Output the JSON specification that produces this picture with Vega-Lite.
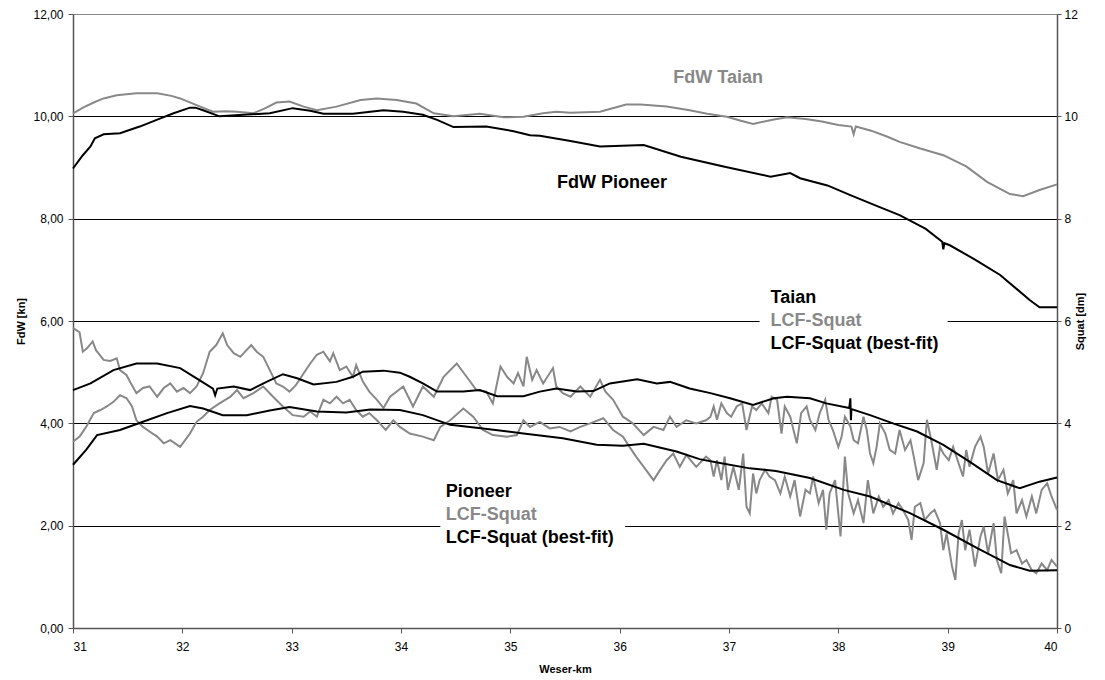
{
  "$schema": "https://vega.github.io/schema/vega-lite/v6.json",
  "width": 984,
  "height": 614,
  "autosize": {"type": "none"},
  "padding": {"left": 73, "top": 14, "right": 48, "bottom": 52},
  "background": "white",
  "config": {
    "view": {"stroke": null},
    "font": "Liberation Sans",
    "axis": {"labelFont": "Liberation Sans", "titleFont": "Liberation Sans", "labelColor": "#000000", "titleColor": "#000000"}
  },
  "datasets": {
    "fdw_taian": [
      {"km": 31.00, "v": 10.06}, {"km": 31.10, "v": 10.18}, {"km": 31.20, "v": 10.28}, {"km": 31.28, "v": 10.35},
      {"km": 31.40, "v": 10.41}, {"km": 31.58, "v": 10.45}, {"km": 31.77, "v": 10.45}, {"km": 31.90, "v": 10.40},
      {"km": 31.98, "v": 10.35}, {"km": 32.13, "v": 10.22}, {"km": 32.28, "v": 10.09}, {"km": 32.40, "v": 10.10},
      {"km": 32.50, "v": 10.09}, {"km": 32.65, "v": 10.06}, {"km": 32.75, "v": 10.15}, {"km": 32.86, "v": 10.27},
      {"km": 32.98, "v": 10.29}, {"km": 33.11, "v": 10.19}, {"km": 33.23, "v": 10.12}, {"km": 33.41, "v": 10.19},
      {"km": 33.63, "v": 10.32}, {"km": 33.78, "v": 10.35}, {"km": 33.96, "v": 10.32}, {"km": 34.14, "v": 10.25},
      {"km": 34.30, "v": 10.06}, {"km": 34.48, "v": 10.00}, {"km": 34.72, "v": 10.05}, {"km": 34.94, "v": 9.98},
      {"km": 35.12, "v": 9.99}, {"km": 35.30, "v": 10.06}, {"km": 35.42, "v": 10.09}, {"km": 35.55, "v": 10.07},
      {"km": 35.82, "v": 10.09}, {"km": 36.06, "v": 10.23}, {"km": 36.19, "v": 10.23}, {"km": 36.43, "v": 10.19},
      {"km": 36.64, "v": 10.12}, {"km": 36.80, "v": 10.05}, {"km": 36.98, "v": 9.99}, {"km": 37.10, "v": 9.92},
      {"km": 37.22, "v": 9.85}, {"km": 37.41, "v": 9.94}, {"km": 37.53, "v": 9.98}, {"km": 37.70, "v": 9.95},
      {"km": 37.85, "v": 9.90}, {"km": 38.00, "v": 9.83}, {"km": 38.12, "v": 9.80}, {"km": 38.14, "v": 9.65},
      {"km": 38.16, "v": 9.80}, {"km": 38.30, "v": 9.72}, {"km": 38.45, "v": 9.60}, {"km": 38.56, "v": 9.50},
      {"km": 38.75, "v": 9.37}, {"km": 38.96, "v": 9.24}, {"km": 39.17, "v": 9.02}, {"km": 39.36, "v": 8.72},
      {"km": 39.57, "v": 8.48}, {"km": 39.69, "v": 8.44}, {"km": 39.84, "v": 8.56}, {"km": 40.00, "v": 8.67}
    ],
    "fdw_pioneer": [
      {"km": 31.00, "v": 8.98}, {"km": 31.09, "v": 9.24}, {"km": 31.16, "v": 9.41}, {"km": 31.20, "v": 9.57},
      {"km": 31.28, "v": 9.65}, {"km": 31.43, "v": 9.67}, {"km": 31.61, "v": 9.80}, {"km": 31.80, "v": 9.96},
      {"km": 31.92, "v": 10.06}, {"km": 32.07, "v": 10.17}, {"km": 32.12, "v": 10.17}, {"km": 32.19, "v": 10.12},
      {"km": 32.34, "v": 10.00}, {"km": 32.56, "v": 10.03}, {"km": 32.80, "v": 10.06}, {"km": 33.01, "v": 10.16},
      {"km": 33.17, "v": 10.11}, {"km": 33.29, "v": 10.05}, {"km": 33.56, "v": 10.05}, {"km": 33.84, "v": 10.12},
      {"km": 34.02, "v": 10.09}, {"km": 34.20, "v": 10.03}, {"km": 34.33, "v": 9.93}, {"km": 34.48, "v": 9.79},
      {"km": 34.78, "v": 9.80}, {"km": 35.03, "v": 9.71}, {"km": 35.18, "v": 9.63}, {"km": 35.27, "v": 9.62},
      {"km": 35.55, "v": 9.52}, {"km": 35.82, "v": 9.41}, {"km": 36.22, "v": 9.44}, {"km": 36.56, "v": 9.21},
      {"km": 36.95, "v": 9.02}, {"km": 37.38, "v": 8.82}, {"km": 37.56, "v": 8.89}, {"km": 37.65, "v": 8.79},
      {"km": 37.90, "v": 8.65}, {"km": 38.11, "v": 8.46}, {"km": 38.35, "v": 8.25}, {"km": 38.56, "v": 8.07},
      {"km": 38.80, "v": 7.80}, {"km": 38.95, "v": 7.55}, {"km": 38.96, "v": 7.40}, {"km": 38.97, "v": 7.52},
      {"km": 39.02, "v": 7.48}, {"km": 39.25, "v": 7.20}, {"km": 39.48, "v": 6.90}, {"km": 39.75, "v": 6.41},
      {"km": 39.84, "v": 6.27}, {"km": 40.00, "v": 6.27}
    ],
    "fit_taian": [
      {"km": 31.00, "v": 4.65}, {"km": 31.16, "v": 4.78}, {"km": 31.37, "v": 5.04}, {"km": 31.58, "v": 5.17},
      {"km": 31.77, "v": 5.17}, {"km": 31.98, "v": 5.08}, {"km": 32.13, "v": 4.88}, {"km": 32.28, "v": 4.68},
      {"km": 32.30, "v": 4.55}, {"km": 32.32, "v": 4.68}, {"km": 32.47, "v": 4.72}, {"km": 32.62, "v": 4.65},
      {"km": 32.77, "v": 4.81}, {"km": 32.92, "v": 4.96}, {"km": 33.05, "v": 4.88}, {"km": 33.20, "v": 4.76},
      {"km": 33.41, "v": 4.81}, {"km": 33.56, "v": 4.91}, {"km": 33.65, "v": 5.01}, {"km": 33.84, "v": 5.03},
      {"km": 33.99, "v": 4.99}, {"km": 34.08, "v": 4.91}, {"km": 34.20, "v": 4.78}, {"km": 34.33, "v": 4.62},
      {"km": 34.57, "v": 4.62}, {"km": 34.72, "v": 4.65}, {"km": 34.88, "v": 4.53}, {"km": 35.12, "v": 4.53},
      {"km": 35.27, "v": 4.62}, {"km": 35.42, "v": 4.68}, {"km": 35.61, "v": 4.62}, {"km": 35.76, "v": 4.63},
      {"km": 35.91, "v": 4.78}, {"km": 36.16, "v": 4.86}, {"km": 36.34, "v": 4.78}, {"km": 36.46, "v": 4.81},
      {"km": 36.64, "v": 4.68}, {"km": 36.83, "v": 4.59}, {"km": 37.01, "v": 4.49}, {"km": 37.22, "v": 4.36},
      {"km": 37.41, "v": 4.49}, {"km": 37.53, "v": 4.52}, {"km": 37.74, "v": 4.49}, {"km": 37.89, "v": 4.39},
      {"km": 38.10, "v": 4.30}, {"km": 38.11, "v": 4.49}, {"km": 38.115, "v": 4.06}, {"km": 38.12, "v": 4.28},
      {"km": 38.29, "v": 4.16}, {"km": 38.50, "v": 4.00}, {"km": 38.72, "v": 3.84}, {"km": 38.96, "v": 3.58},
      {"km": 39.20, "v": 3.25}, {"km": 39.45, "v": 2.89}, {"km": 39.66, "v": 2.73}, {"km": 39.84, "v": 2.86},
      {"km": 40.00, "v": 2.94}
    ],
    "fit_pioneer": [
      {"km": 31.00, "v": 3.19}, {"km": 31.12, "v": 3.48}, {"km": 31.22, "v": 3.77}, {"km": 31.43, "v": 3.87},
      {"km": 31.64, "v": 4.03}, {"km": 31.86, "v": 4.20}, {"km": 32.07, "v": 4.34}, {"km": 32.19, "v": 4.29},
      {"km": 32.37, "v": 4.16}, {"km": 32.59, "v": 4.16}, {"km": 32.80, "v": 4.25}, {"km": 32.98, "v": 4.32},
      {"km": 33.23, "v": 4.23}, {"km": 33.50, "v": 4.21}, {"km": 33.72, "v": 4.27}, {"km": 33.99, "v": 4.26},
      {"km": 34.20, "v": 4.16}, {"km": 34.45, "v": 3.97}, {"km": 34.75, "v": 3.90}, {"km": 35.12, "v": 3.80},
      {"km": 35.48, "v": 3.71}, {"km": 35.79, "v": 3.58}, {"km": 36.03, "v": 3.56}, {"km": 36.22, "v": 3.60},
      {"km": 36.52, "v": 3.45}, {"km": 36.73, "v": 3.30}, {"km": 36.88, "v": 3.24}, {"km": 37.19, "v": 3.12},
      {"km": 37.43, "v": 3.07}, {"km": 37.74, "v": 2.93}, {"km": 38.05, "v": 2.70}, {"km": 38.29, "v": 2.57},
      {"km": 38.66, "v": 2.24}, {"km": 38.96, "v": 1.92}, {"km": 39.27, "v": 1.56}, {"km": 39.57, "v": 1.23},
      {"km": 39.75, "v": 1.12}, {"km": 40.00, "v": 1.13}
    ],
    "squat_taian": [
      {"km": 31.00, "v": 5.86}, {"km": 31.03, "v": 5.82}, {"km": 31.06, "v": 5.78}, {"km": 31.09, "v": 5.40},
      {"km": 31.13, "v": 5.47}, {"km": 31.18, "v": 5.60}, {"km": 31.21, "v": 5.43}, {"km": 31.28, "v": 5.24},
      {"km": 31.34, "v": 5.22}, {"km": 31.40, "v": 5.27}, {"km": 31.43, "v": 5.04}, {"km": 31.49, "v": 4.94},
      {"km": 31.52, "v": 4.82}, {"km": 31.58, "v": 4.59}, {"km": 31.64, "v": 4.69}, {"km": 31.70, "v": 4.72},
      {"km": 31.77, "v": 4.52}, {"km": 31.83, "v": 4.69}, {"km": 31.89, "v": 4.78}, {"km": 31.95, "v": 4.62},
      {"km": 32.01, "v": 4.69}, {"km": 32.07, "v": 4.59}, {"km": 32.13, "v": 4.72}, {"km": 32.19, "v": 4.98},
      {"km": 32.25, "v": 5.40}, {"km": 32.31, "v": 5.53}, {"km": 32.37, "v": 5.76}, {"km": 32.41, "v": 5.53},
      {"km": 32.47, "v": 5.37}, {"km": 32.53, "v": 5.30}, {"km": 32.63, "v": 5.53}, {"km": 32.68, "v": 5.40},
      {"km": 32.74, "v": 5.30}, {"km": 32.80, "v": 5.04}, {"km": 32.86, "v": 4.78}, {"km": 32.92, "v": 4.72},
      {"km": 32.98, "v": 4.62}, {"km": 33.04, "v": 4.75}, {"km": 33.11, "v": 4.98}, {"km": 33.17, "v": 5.17},
      {"km": 33.23, "v": 5.34}, {"km": 33.29, "v": 5.40}, {"km": 33.35, "v": 5.21}, {"km": 33.38, "v": 5.37},
      {"km": 33.44, "v": 5.04}, {"km": 33.50, "v": 5.11}, {"km": 33.56, "v": 4.91}, {"km": 33.59, "v": 5.14},
      {"km": 33.65, "v": 4.82}, {"km": 33.71, "v": 4.62}, {"km": 33.78, "v": 4.46}, {"km": 33.84, "v": 4.30},
      {"km": 33.90, "v": 4.52}, {"km": 34.02, "v": 4.72}, {"km": 34.11, "v": 4.33}, {"km": 34.20, "v": 4.72},
      {"km": 34.30, "v": 4.52}, {"km": 34.39, "v": 4.91}, {"km": 34.51, "v": 5.17}, {"km": 34.60, "v": 4.91},
      {"km": 34.69, "v": 4.65}, {"km": 34.78, "v": 4.62}, {"km": 34.84, "v": 4.39}, {"km": 34.91, "v": 5.11},
      {"km": 34.97, "v": 4.91}, {"km": 35.03, "v": 4.78}, {"km": 35.07, "v": 4.98}, {"km": 35.12, "v": 4.72},
      {"km": 35.15, "v": 5.30}, {"km": 35.20, "v": 4.85}, {"km": 35.24, "v": 5.04}, {"km": 35.30, "v": 4.78},
      {"km": 35.39, "v": 5.08}, {"km": 35.42, "v": 4.72}, {"km": 35.48, "v": 4.59}, {"km": 35.55, "v": 4.52},
      {"km": 35.64, "v": 4.72}, {"km": 35.73, "v": 4.52}, {"km": 35.82, "v": 4.85}, {"km": 35.87, "v": 4.62},
      {"km": 35.94, "v": 4.46}, {"km": 36.03, "v": 4.13}, {"km": 36.12, "v": 4.00}, {"km": 36.22, "v": 3.77},
      {"km": 36.31, "v": 3.93}, {"km": 36.40, "v": 3.87}, {"km": 36.46, "v": 4.13}, {"km": 36.52, "v": 3.93},
      {"km": 36.61, "v": 4.06}, {"km": 36.70, "v": 4.00}, {"km": 36.79, "v": 4.06}, {"km": 36.83, "v": 4.13},
      {"km": 36.86, "v": 4.33}, {"km": 36.89, "v": 4.07}, {"km": 36.93, "v": 4.39}, {"km": 36.98, "v": 4.20},
      {"km": 37.02, "v": 4.13}, {"km": 37.07, "v": 4.33}, {"km": 37.12, "v": 4.39}, {"km": 37.16, "v": 3.87},
      {"km": 37.21, "v": 4.33}, {"km": 37.25, "v": 4.26}, {"km": 37.30, "v": 4.39}, {"km": 37.36, "v": 4.20},
      {"km": 37.39, "v": 4.52}, {"km": 37.44, "v": 4.46}, {"km": 37.48, "v": 3.80}, {"km": 37.51, "v": 4.33},
      {"km": 37.56, "v": 4.13}, {"km": 37.59, "v": 3.87}, {"km": 37.62, "v": 3.61}, {"km": 37.66, "v": 4.20},
      {"km": 37.71, "v": 4.33}, {"km": 37.74, "v": 4.07}, {"km": 37.79, "v": 3.87}, {"km": 37.83, "v": 4.20},
      {"km": 37.88, "v": 4.46}, {"km": 37.91, "v": 4.07}, {"km": 37.95, "v": 3.87}, {"km": 38.00, "v": 3.54},
      {"km": 38.03, "v": 3.74}, {"km": 38.06, "v": 4.13}, {"km": 38.11, "v": 3.94}, {"km": 38.14, "v": 3.67},
      {"km": 38.18, "v": 3.61}, {"km": 38.23, "v": 4.13}, {"km": 38.26, "v": 3.87}, {"km": 38.29, "v": 3.41},
      {"km": 38.32, "v": 3.22}, {"km": 38.35, "v": 3.54}, {"km": 38.38, "v": 4.00}, {"km": 38.43, "v": 3.80},
      {"km": 38.47, "v": 3.48}, {"km": 38.52, "v": 3.41}, {"km": 38.56, "v": 3.87}, {"km": 38.61, "v": 3.48},
      {"km": 38.66, "v": 3.67}, {"km": 38.69, "v": 3.35}, {"km": 38.73, "v": 2.89}, {"km": 38.78, "v": 3.22},
      {"km": 38.81, "v": 4.07}, {"km": 38.85, "v": 3.67}, {"km": 38.90, "v": 3.09}, {"km": 38.93, "v": 3.54},
      {"km": 38.96, "v": 3.41}, {"km": 39.01, "v": 3.28}, {"km": 39.05, "v": 3.54}, {"km": 39.10, "v": 3.22},
      {"km": 39.14, "v": 2.96}, {"km": 39.17, "v": 3.48}, {"km": 39.20, "v": 3.15}, {"km": 39.25, "v": 3.54},
      {"km": 39.30, "v": 3.74}, {"km": 39.33, "v": 3.54}, {"km": 39.37, "v": 3.02}, {"km": 39.42, "v": 3.41},
      {"km": 39.46, "v": 2.89}, {"km": 39.51, "v": 3.09}, {"km": 39.55, "v": 2.63}, {"km": 39.60, "v": 2.89},
      {"km": 39.63, "v": 2.24}, {"km": 39.68, "v": 2.50}, {"km": 39.72, "v": 2.18}, {"km": 39.77, "v": 2.57},
      {"km": 39.81, "v": 2.24}, {"km": 39.86, "v": 2.70}, {"km": 39.91, "v": 2.83}, {"km": 39.95, "v": 2.57},
      {"km": 40.00, "v": 2.31}
    ],
    "squat_pioneer": [
      {"km": 31.00, "v": 3.64}, {"km": 31.06, "v": 3.74}, {"km": 31.12, "v": 3.93}, {"km": 31.19, "v": 4.20},
      {"km": 31.25, "v": 4.26}, {"km": 31.31, "v": 4.33}, {"km": 31.37, "v": 4.42}, {"km": 31.43, "v": 4.55},
      {"km": 31.49, "v": 4.49}, {"km": 31.54, "v": 4.33}, {"km": 31.58, "v": 4.06}, {"km": 31.64, "v": 3.93},
      {"km": 31.70, "v": 3.84}, {"km": 31.77, "v": 3.74}, {"km": 31.83, "v": 3.61}, {"km": 31.89, "v": 3.67},
      {"km": 31.98, "v": 3.54}, {"km": 32.07, "v": 3.80}, {"km": 32.13, "v": 4.03}, {"km": 32.19, "v": 4.13},
      {"km": 32.25, "v": 4.26}, {"km": 32.34, "v": 4.39}, {"km": 32.44, "v": 4.52}, {"km": 32.50, "v": 4.65},
      {"km": 32.56, "v": 4.49}, {"km": 32.65, "v": 4.59}, {"km": 32.74, "v": 4.72}, {"km": 32.83, "v": 4.52},
      {"km": 32.92, "v": 4.33}, {"km": 33.01, "v": 4.16}, {"km": 33.11, "v": 4.13}, {"km": 33.17, "v": 4.23},
      {"km": 33.23, "v": 4.13}, {"km": 33.29, "v": 4.46}, {"km": 33.35, "v": 4.39}, {"km": 33.41, "v": 4.52},
      {"km": 33.47, "v": 4.39}, {"km": 33.53, "v": 4.46}, {"km": 33.59, "v": 4.26}, {"km": 33.65, "v": 4.13},
      {"km": 33.71, "v": 4.20}, {"km": 33.78, "v": 4.06}, {"km": 33.86, "v": 3.87}, {"km": 33.93, "v": 4.06},
      {"km": 33.99, "v": 3.93}, {"km": 34.08, "v": 3.80}, {"km": 34.20, "v": 3.74}, {"km": 34.30, "v": 3.67},
      {"km": 34.36, "v": 3.93}, {"km": 34.45, "v": 4.06}, {"km": 34.57, "v": 4.29}, {"km": 34.66, "v": 4.13},
      {"km": 34.75, "v": 3.87}, {"km": 34.84, "v": 3.77}, {"km": 34.97, "v": 3.74}, {"km": 35.06, "v": 3.77},
      {"km": 35.12, "v": 4.06}, {"km": 35.18, "v": 3.93}, {"km": 35.27, "v": 4.03}, {"km": 35.36, "v": 3.90},
      {"km": 35.45, "v": 3.93}, {"km": 35.55, "v": 3.84}, {"km": 35.64, "v": 3.93}, {"km": 35.73, "v": 4.00},
      {"km": 35.85, "v": 4.10}, {"km": 35.94, "v": 3.87}, {"km": 36.03, "v": 3.74}, {"km": 36.09, "v": 3.54},
      {"km": 36.15, "v": 3.35}, {"km": 36.22, "v": 3.15}, {"km": 36.31, "v": 2.89}, {"km": 36.37, "v": 3.09},
      {"km": 36.43, "v": 3.28}, {"km": 36.49, "v": 3.41}, {"km": 36.55, "v": 3.15}, {"km": 36.61, "v": 3.38},
      {"km": 36.70, "v": 3.15}, {"km": 36.79, "v": 3.35}, {"km": 36.83, "v": 3.28}, {"km": 36.86, "v": 2.96},
      {"km": 36.89, "v": 3.28}, {"km": 36.93, "v": 2.89}, {"km": 36.96, "v": 3.35}, {"km": 36.99, "v": 2.70},
      {"km": 37.04, "v": 3.15}, {"km": 37.09, "v": 2.70}, {"km": 37.13, "v": 3.41}, {"km": 37.16, "v": 2.37},
      {"km": 37.19, "v": 2.24}, {"km": 37.22, "v": 3.02}, {"km": 37.25, "v": 2.63}, {"km": 37.28, "v": 2.89},
      {"km": 37.33, "v": 3.09}, {"km": 37.37, "v": 2.96}, {"km": 37.42, "v": 2.89}, {"km": 37.47, "v": 2.63},
      {"km": 37.51, "v": 2.96}, {"km": 37.56, "v": 2.57}, {"km": 37.60, "v": 2.89}, {"km": 37.65, "v": 2.18},
      {"km": 37.70, "v": 2.70}, {"km": 37.74, "v": 2.63}, {"km": 37.77, "v": 2.96}, {"km": 37.82, "v": 2.44},
      {"km": 37.86, "v": 2.70}, {"km": 37.89, "v": 1.92}, {"km": 37.92, "v": 2.63}, {"km": 37.97, "v": 2.89},
      {"km": 38.02, "v": 1.79}, {"km": 38.06, "v": 3.35}, {"km": 38.09, "v": 2.63}, {"km": 38.14, "v": 2.24},
      {"km": 38.18, "v": 2.50}, {"km": 38.23, "v": 2.05}, {"km": 38.27, "v": 2.89}, {"km": 38.32, "v": 2.24},
      {"km": 38.37, "v": 2.57}, {"km": 38.41, "v": 2.37}, {"km": 38.46, "v": 2.50}, {"km": 38.50, "v": 2.24},
      {"km": 38.55, "v": 2.44}, {"km": 38.59, "v": 2.31}, {"km": 38.64, "v": 2.11}, {"km": 38.67, "v": 1.72},
      {"km": 38.70, "v": 2.37}, {"km": 38.75, "v": 2.44}, {"km": 38.79, "v": 2.11}, {"km": 38.84, "v": 2.24},
      {"km": 38.88, "v": 2.31}, {"km": 38.93, "v": 2.05}, {"km": 38.96, "v": 1.52}, {"km": 38.99, "v": 1.85},
      {"km": 39.04, "v": 1.20}, {"km": 39.07, "v": 0.94}, {"km": 39.10, "v": 1.85}, {"km": 39.13, "v": 2.11},
      {"km": 39.16, "v": 1.52}, {"km": 39.20, "v": 1.92}, {"km": 39.25, "v": 1.20}, {"km": 39.30, "v": 1.79},
      {"km": 39.33, "v": 1.98}, {"km": 39.37, "v": 1.46}, {"km": 39.42, "v": 2.05}, {"km": 39.45, "v": 1.33},
      {"km": 39.49, "v": 1.07}, {"km": 39.52, "v": 2.18}, {"km": 39.56, "v": 1.72}, {"km": 39.58, "v": 1.46},
      {"km": 39.63, "v": 1.52}, {"km": 39.68, "v": 1.26}, {"km": 39.72, "v": 1.33}, {"km": 39.77, "v": 1.13},
      {"km": 39.81, "v": 1.07}, {"km": 39.86, "v": 1.26}, {"km": 39.91, "v": 1.13}, {"km": 39.95, "v": 1.33},
      {"km": 40.00, "v": 1.20}
    ],
    "label_boxes": [
      {"km": 37.28, "km2": 39.00, "v": 5.30, "v2": 6.65},
      {"km": 34.36, "km2": 36.05, "v": 1.55, "v2": 2.95}
    ],
    "labels": [
      {"km": 36.90, "v": 10.75, "text": "FdW Taian", "tone": "grey", "align": "center"},
      {"km": 35.93, "v": 8.70, "text": "FdW Pioneer", "tone": "black", "align": "center"},
      {"km": 37.38, "v": 6.45, "text": "Taian", "tone": "black", "align": "left"},
      {"km": 37.38, "v": 6.00, "text": "LCF-Squat", "tone": "grey", "align": "left"},
      {"km": 37.38, "v": 5.55, "text": "LCF-Squat (best-fit)", "tone": "black", "align": "left"},
      {"km": 34.41, "v": 2.66, "text": "Pioneer", "tone": "black", "align": "left"},
      {"km": 34.41, "v": 2.21, "text": "LCF-Squat", "tone": "grey", "align": "left"},
      {"km": 34.41, "v": 1.76, "text": "LCF-Squat (best-fit)", "tone": "black", "align": "left"}
    ]
  },
  "encoding": {
    "x": {
      "field": "km", "type": "quantitative",
      "scale": {"domain": [31, 40], "nice": false, "zero": false},
      "axis": {
        "title": "Weser-km", "values": [31, 32, 33, 34, 35, 36, 37, 38, 39, 40], "format": "d",
        "grid": false, "domainColor": "#555555", "domainWidth": 1.5, "tickColor": "#555555", "tickSize": 5,
        "labelFontSize": 12, "labelPadding": 8, "titleFontSize": 11, "titleFontWeight": "bold", "titlePadding": 11
      }
    }
  },
  "layer": [
    {
      "data": {"name": "fdw_taian"},
      "mark": {"type": "line", "color": "#888888", "strokeWidth": 2},
      "encoding": {
        "y": {
          "field": "v", "type": "quantitative", "scale": {"domain": [0, 12], "nice": false},
          "axis": {
            "orient": "left", "title": "FdW [kn]", "values": [0, 2, 4, 6, 8, 10, 12],
            "labelExpr": "replace(format(datum.value, '.2f'), '.', ',')",
            "grid": true, "gridColor": {"condition": {"test": "datum.value === 12", "value": "#888888"}, "value": "#000000"},
            "gridOpacity": 1, "gridWidth": 1,
            "domainColor": "#555555", "domainWidth": 1.5, "tickColor": "#555555", "tickSize": 5,
            "labelFontSize": 12, "labelPadding": 5, "titleFontSize": 11, "titleFontWeight": "bold", "titlePadding": 6
          }
        }
      }
    },
    {
      "data": {"name": "fdw_pioneer"},
      "mark": {"type": "line", "color": "#000000", "strokeWidth": 2},
      "encoding": {"y": {"field": "v", "type": "quantitative", "scale": {"domain": [0, 12], "nice": false}, "axis": null}}
    },
    {
      "data": {"name": "squat_taian"},
      "mark": {"type": "line", "color": "#888888", "strokeWidth": 2},
      "encoding": {
        "y": {
          "field": "v", "type": "quantitative", "scale": {"domain": [0, 12], "nice": false},
          "axis": {
            "orient": "right", "title": "Squat [dm]", "values": [0, 2, 4, 6, 8, 10, 12], "format": "d",
            "grid": false, "domainColor": "#555555", "domainWidth": 1.5, "tickColor": "#555555", "tickSize": 4,
            "labelFontSize": 12, "labelPadding": 3, "titleFontSize": 11, "titleFontWeight": "bold", "titlePadding": 8,
            "titleAngle": -90
          }
        }
      }
    },
    {
      "data": {"name": "squat_pioneer"},
      "mark": {"type": "line", "color": "#888888", "strokeWidth": 2},
      "encoding": {"y": {"field": "v", "type": "quantitative", "scale": {"domain": [0, 12], "nice": false}, "axis": null}}
    },
    {
      "data": {"name": "fit_taian"},
      "mark": {"type": "line", "color": "#000000", "strokeWidth": 2},
      "encoding": {"y": {"field": "v", "type": "quantitative", "scale": {"domain": [0, 12], "nice": false}, "axis": null}}
    },
    {
      "data": {"name": "fit_pioneer"},
      "mark": {"type": "line", "color": "#000000", "strokeWidth": 2},
      "encoding": {"y": {"field": "v", "type": "quantitative", "scale": {"domain": [0, 12], "nice": false}, "axis": null}}
    },
    {
      "data": {"name": "label_boxes"},
      "mark": {"type": "rect", "color": "#ffffff", "opacity": 1},
      "encoding": {
        "x2": {"field": "km2"},
        "y": {"field": "v", "type": "quantitative", "scale": {"domain": [0, 12], "nice": false}, "axis": null},
        "y2": {"field": "v2"}
      }
    },
    {
      "data": {"name": "labels"},
      "transform": [{"filter": "datum.align === 'center'"}],
      "mark": {"type": "text", "align": "center", "baseline": "middle", "font": "Liberation Sans", "fontSize": 18, "fontWeight": "bold"},
      "encoding": {
        "y": {"field": "v", "type": "quantitative", "scale": {"domain": [0, 12], "nice": false}, "axis": null},
        "text": {"field": "text"},
        "color": {"field": "tone", "type": "nominal", "scale": {"domain": ["black", "grey"], "range": ["#000000", "#888888"]}, "legend": null}
      }
    },
    {
      "data": {"name": "labels"},
      "transform": [{"filter": "datum.align === 'left'"}],
      "mark": {"type": "text", "align": "left", "baseline": "middle", "font": "Liberation Sans", "fontSize": 18, "fontWeight": "bold"},
      "encoding": {
        "y": {"field": "v", "type": "quantitative", "scale": {"domain": [0, 12], "nice": false}, "axis": null},
        "text": {"field": "text"},
        "color": {"field": "tone", "type": "nominal", "scale": {"domain": ["black", "grey"], "range": ["#000000", "#888888"]}, "legend": null}
      }
    }
  ],
  "resolve": {"axis": {"y": "independent"}}
}
